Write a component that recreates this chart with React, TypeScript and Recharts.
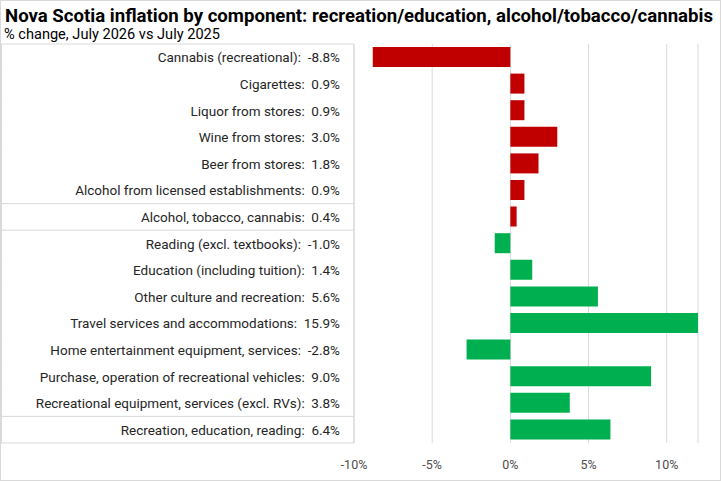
import { BarChart, Bar, XAxis, YAxis, CartesianGrid, Cell } from 'recharts';

const categories = [
  'Cannabis (recreational)',
  'Cigarettes',
  'Liquor from stores',
  'Wine from stores',
  'Beer from stores',
  'Alcohol from licensed establishments',
  'Alcohol, tobacco, cannabis',
  'Reading (excl. textbooks)',
  'Education (including tuition)',
  'Other culture and recreation',
  'Travel services and accommodations',
  'Home entertainment equipment, services',
  'Purchase, operation of recreational vehicles',
  'Recreational equipment, services (excl. RVs)',
  'Recreation, education, reading',
];
const changes = [-8.8, 0.9, 0.9, 3.0, 1.8, 0.9, 0.4, -1.0, 1.4, 5.6, 15.9, -2.8, 9.0, 3.8, 6.4];
// which group each row belongs to: alcohol/tobacco/cannabis vs recreation/education
const groups = ['atc', 'atc', 'atc', 'atc', 'atc', 'atc', 'atc', 'rec', 'rec', 'rec', 'rec', 'rec', 'rec', 'rec', 'rec'];
// rows that begin a new box section in the label column
const sectionStarts = [0, 6, 7, 14];
const xTicks = [-10, -5, 0, 5, 10];

const groupColors: Record<string, string> = { atc: '#C00000', rec: '#00B050' };

const data = categories.map((name, i) => ({
  label: `${name}:\u00a0\u00a0${changes[i].toFixed(1)}%`,
  value: changes[i],
  group: groups[i],
}));

const W = 721;
const H = 481;
const TOP = 44;
const BOTTOM = 38;
const XAXIS_H = 30;
const BAND = (H - TOP - BOTTOM) / categories.length;
const BORDER = '#d9d9d9';

function LabelTick(props: any) {
  const { x, y, payload, index } = props;
  const top = y - BAND / 2;
  const bottom = y + BAND / 2;
  return (
    <g>
      {sectionStarts.includes(index) && (
        <line x1={1} x2={x + 8} y1={top} y2={top} stroke={BORDER} />
      )}
      {index === categories.length - 1 && (
        <line x1={1} x2={x + 8} y1={bottom} y2={bottom} stroke={BORDER} />
      )}
      <line x1={1.5} x2={1.5} y1={top} y2={bottom} stroke={BORDER} />
      <text x={x - 6} y={y} textAnchor="end" dominantBaseline="central" fontSize={13.5} fill="#262626">
        {payload.value}
      </text>
    </g>
  );
}

function App() {
  return (
    <div
      style={{
        position: 'absolute',
        left: 0,
        top: 0,
        width: W,
        height: H,
        border: `1px solid ${BORDER}`,
        boxSizing: 'border-box',
        background: '#fff',
        fontFamily: 'Roboto, sans-serif',
      }}
    >
      <svg width={W} height={46} style={{ position: 'absolute', left: -1, top: -1 }}>
        <text
          x={5}
          y={22}
          textLength={708}
          lengthAdjust="spacingAndGlyphs"
          fontFamily="Roboto, sans-serif"
          fontWeight="bold"
          fontSize={18}
          fill="#000"
        >
          Nova Scotia inflation by component: recreation/education, alcohol/tobacco/cannabis
        </text>
        <text
          x={4}
          y={39}
          textLength={216}
          lengthAdjust="spacingAndGlyphs"
          fontFamily="Roboto, sans-serif"
          fontSize={14}
          fill="#000"
        >
          % change, July 2026 vs July 2025
        </text>
      </svg>
      <div style={{ position: 'absolute', left: -1, top: -1 }}>
        <BarChart
          width={W}
          height={H}
          data={data}
          layout="vertical"
          margin={{ top: TOP, right: 23, bottom: BOTTOM - XAXIS_H, left: 0 }}
          barSize={20}
        >
          <CartesianGrid horizontal={false} stroke={BORDER} />
          <XAxis
            type="number"
            domain={[-10, 12]}
            allowDataOverflow
            ticks={xTicks}
            tickFormatter={(v: number) => `${v}%`}
            axisLine={false}
            tickLine={false}
            tick={{ fontSize: 12.5, fill: '#4d4d4d' }}
            tickMargin={11}
            height={XAXIS_H}
          />
          <YAxis
            type="category"
            dataKey="label"
            width={354}
            axisLine={{ stroke: BORDER }}
            tickLine={false}
            tick={<LabelTick />}
            interval={0}
          />
          <Bar dataKey="value" isAnimationActive={false}>
            {data.map((d, i) => (
              <Cell key={i} fill={groupColors[d.group]} />
            ))}
          </Bar>
        </BarChart>
      </div>
    </div>
  );
}

export default App;
